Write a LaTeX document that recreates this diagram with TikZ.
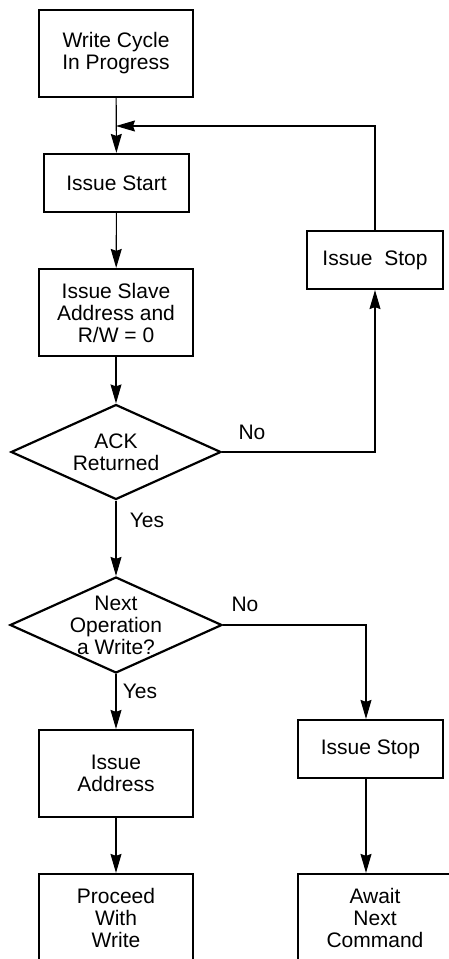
\documentclass[tikz,border=0pt]{standalone}
\usepackage{fontspec}
\setmainfont{Liberation Sans}
\usetikzlibrary{shapes.geometric,arrows.meta}

\begin{document}
\begin{tikzpicture}[x=1pt, y=-1pt,
      every node/.style = {align=center, font=\fontsize{21}{22}\selectfont},
      box/.style = {shape=rectangle, draw, line width=2.2pt, inner sep=0pt,
                    minimum width=154pt, minimum height=87pt},
      smallbox/.style = {box, minimum height=58pt},
      decision/.style = {shape=diamond, draw, line width=2.2pt, inner sep=0pt,
                    minimum width=210pt, minimum height=95pt},
      flow/.style = {line width=1.1pt, -{Stealth[length=19pt, width=11pt, inset=2pt]}}]
    \useasboundingbox (0,0) rectangle (449,959);
    \clip (0,0) rectangle (449,959);
    % left column
    \node[box] (cycle) at (116,53.5) {Write Cycle\\In Progress};
    \node[smallbox, minimum width=145pt] (start) at (116.5,183) {Issue Start};
    \node[box] (slave) at (116,312.5) {Issue Slave\\Address and\\R/W = 0};
    \node[decision, label={[align=center]center:{ACK\\Returned}}] (ack) at (116,452) {};
    \node[decision, minimum width=212pt, minimum height=96pt,
          label={[align=center]center:{Next\\Operation\\a Write?}}] (next) at (116,625) {};
    \node[box] (addr) at (116,773.5) {Issue\\Address};
    \node[box] (proceed) at (116,917.5) {Proceed\\With\\Write};
    % right column
    \node[smallbox, minimum width=136pt] (stopa) at (375,260) {Issue~~Stop};
    \node[smallbox, minimum width=145pt] (stopb) at (370.5,749) {Issue Stop};
    \node[box] (await) at (375,917.5) {Await\\Next\\Command};
    % branch labels
    \node (ackno) at (252,432) {No};
    \node (ackyes) at (147,520) {Yes};
    \node (nextno) at (245,604) {No};
    \node (nextyes) at (140,691) {Yes};
    \coordinate (join) at (116,126);
    \coordinate (drop) at (366,0);
    % connectors
    \draw[flow] (cycle) -- (start);
    \draw[flow] (stopa.north) |- (join);
    \draw[flow] (start) -- (slave);
    \draw[flow] (slave) -- (ack.north);
    \draw[flow] (ack.east) -| (stopa.south);
    \draw[flow] (ack.south) -- (next.north);
    \draw[flow] (next.east) -| (drop |- stopb.north);
    \draw[flow] (next.south) -- (addr);
    \draw[flow] (addr) -- (proceed);
    \draw[flow] (drop |- stopb.south) -- (drop |- await.north);
\end{tikzpicture}
\end{document}
